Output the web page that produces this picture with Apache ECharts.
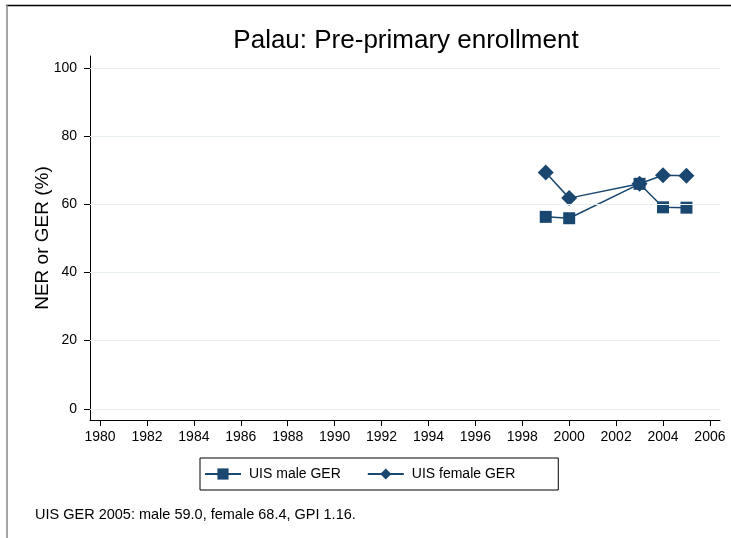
<!DOCTYPE html>
<html>
<head>
<meta charset="utf-8">
<script src="https://cdn.jsdelivr.net/npm/echarts@6/dist/echarts.min.js"></script>
<style>
  html, body { margin: 0; padding: 0; background: #fff; }
  #chart { width: 731px; height: 538px; }
</style>
</head>
<body>
<div id="chart"></div>
<script>
  // data
  var years = [1999, 2000, 2003, 2004, 2005]
  var maleGER = [56.3, 55.9, 66.0, 59.1, 59.0]
  var femaleGER = [69.3, 61.8, 66.0, 68.5, 68.4]
  var xTicks = [1980, 1982, 1984, 1986, 1988, 1990, 1992, 1994, 1996, 1998, 2000, 2002, 2004, 2006]
  var yTicks = [0, 20, 40, 60, 80, 100]

  var navy = '#1a476f'
  var font = 'Liberation Sans, Arial, sans-serif'

  function pairs (xs, ys) {
    return xs.map(function (x, i) { return [x, ys[i]] })
  }

  var myChart = echarts.init(document.getElementById('chart'))
  var option = {
    animation: false,
    textStyle: { fontFamily: font },
    title: {
      text: 'Palau: Pre-primary enrollment',
      left: 401,
      textAlign: 'center',
      top: 23,
      textStyle: { fontSize: 26, fontWeight: 'normal', color: '#000', fontFamily: font }
    },
    grid: {
      left: 90,
      right: 11,
      top: 56,
      bottom: 118
    },
    xAxis: {
      type: 'value',
      min: 1979.57,
      max: 2006.43,
      axisLine: { show: true, onZero: false, lineStyle: { color: '#000', width: 1 } },
      axisTick: { show: true, customValues: xTicks, length: 6, lineStyle: { color: '#000' } },
      axisLabel: { customValues: xTicks, color: '#000', fontSize: 14, margin: 10, formatter: function (v) { return String(v) } },
      splitLine: { show: false }
    },
    yAxis: {
      type: 'value',
      min: -3.3,
      max: 103.5,
      name: 'NER or GER (%)',
      nameLocation: 'middle',
      nameGap: 38,
      nameMoveOverlap: false,
      nameTextStyle: { fontSize: 19, color: '#000' },
      axisLine: { show: true, onZero: false, lineStyle: { color: '#000', width: 1 } },
      axisTick: { show: true, customValues: yTicks, length: 6, lineStyle: { color: '#000' } },
      axisLabel: { customValues: yTicks, color: '#000', fontSize: 14, margin: 13, formatter: function (v) { return String(v) } },
      splitLine: { show: false }
    },
    legend: {
      left: 200,
      top: 458,
      padding: [9, 43, 9, 4],
      itemGap: 26,
      itemWidth: 36,
      itemHeight: 14,
      borderColor: '#000',
      borderWidth: 1,
      textStyle: { fontSize: 14, color: '#000', padding: [0, 0, 0, 3] },
      data: ['UIS male GER', 'UIS female GER']
    },
    series: [
      {
        // horizontal grid lines at the y tick values
        type: 'line',
        data: [],
        silent: true,
        markLine: {
          silent: true,
          symbol: 'none',
          label: { show: false },
          lineStyle: { color: '#e8eff2', width: 1, type: 'solid' },
          data: yTicks.map(function (v) { return { yAxis: v } })
        }
      },
      {
        name: 'UIS male GER',
        type: 'line',
        data: pairs(years, maleGER),
        symbol: 'rect',
        symbolSize: 12,
        itemStyle: { color: navy },
        lineStyle: { color: navy, width: 1.5 }
      },
      {
        name: 'UIS female GER',
        type: 'line',
        data: pairs(years, femaleGER),
        symbol: 'diamond',
        symbolSize: 16,
        itemStyle: { color: navy },
        lineStyle: { color: navy, width: 1.5 }
      }
    ],
    graphic: [
      { type: 'line', shape: { x1: 6, y1: 5.5, x2: 731, y2: 5.5 }, style: { stroke: '#000', lineWidth: 1.5 } },
      { type: 'line', shape: { x1: 7, y1: 5, x2: 7, y2: 538 }, style: { stroke: '#888', lineWidth: 1.5 } },
      {
        type: 'text',
        left: 35,
        top: 507,
        style: { text: 'UIS GER 2005: male 59.0, female 68.4, GPI 1.16.', fontSize: 14.5, fill: '#000', fontFamily: font }
      }
    ]
  }
  myChart.setOption(option)
</script>
</body>
</html>
